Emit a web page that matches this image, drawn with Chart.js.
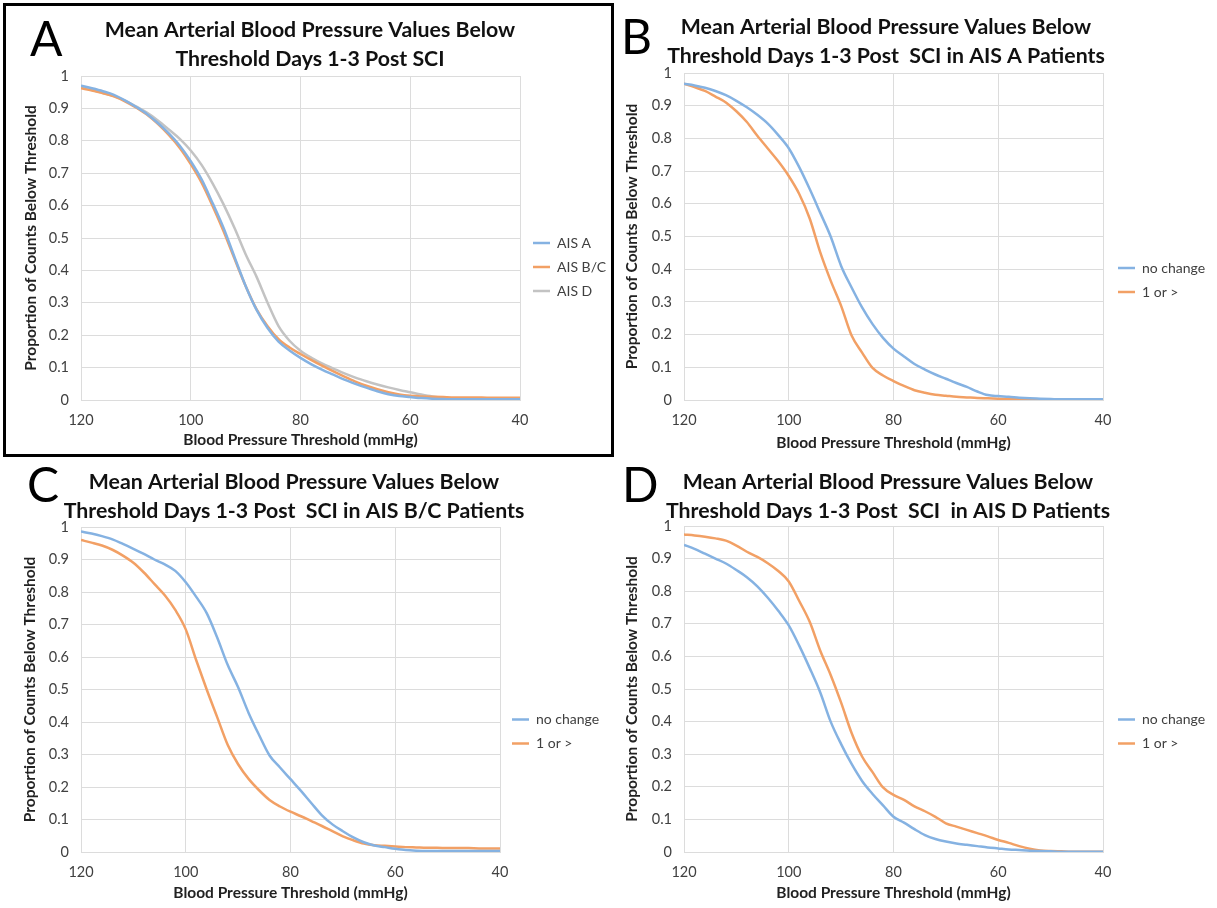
<!DOCTYPE html>
<html>
<head>
<meta charset="utf-8">
<script src="https://cdn.jsdelivr.net/npm/chart.js@4.4.0/dist/chart.umd.min.js"></script>
<style>
  body { margin: 0; background: #fff; width: 1217px; height: 908px; position: relative; overflow: hidden; }
  .panel { position: absolute; }
  .letter { position: absolute; font: 48px Lato, sans-serif; line-height: 48px; color: #000; }
  #boxA { position: absolute; left: 3px; top: 3px; width: 611px; height: 454px; border: 3px solid #000; box-sizing: border-box; }
</style>
</head>
<body>
<div id="boxA"></div>
<div class="panel" style="left:6px;top:6px"><canvas id="chartA" width="604" height="447"></canvas></div>
<div class="panel" style="left:615px;top:6px"><canvas id="chartB" width="600" height="447"></canvas></div>
<div class="panel" style="left:6px;top:460px"><canvas id="chartC" width="604" height="445"></canvas></div>
<div class="panel" style="left:615px;top:460px"><canvas id="chartD" width="600" height="445"></canvas></div>
<div class="letter" style="left:30px;top:14px">A</div>
<div class="letter" style="left:621px;top:12px">B</div>
<div class="letter" style="left:27px;top:460px">C</div>
<div class="letter" style="left:622px;top:460px">D</div>
<script>
// blood pressure thresholds, mmHg
const thresholds = [120, 118, 116, 114, 112, 110, 108, 106, 104, 102, 100, 98, 96, 94, 92, 90, 88, 86, 84, 82,
  80, 78, 76, 74, 72, 70, 68, 66, 64, 62, 60, 58, 56, 54, 52, 50, 48, 46, 44, 42, 40];
const xTicks = [120, 100, 80, 60, 40];

// panel A
const aisA = [0.970, 0.962, 0.953, 0.942, 0.925, 0.905, 0.883, 0.855, 0.823, 0.785, 0.737, 0.680, 0.607, 0.530, 0.440, 0.352, 0.278, 0.222, 0.180, 0.153,
  0.130, 0.110, 0.093, 0.078, 0.063, 0.050, 0.038, 0.027, 0.018, 0.012, 0.009, 0.006, 0.004, 0.003, 0.002, 0.002, 0.002, 0.002, 0.002, 0.002, 0.002];
const aisBC = [0.962, 0.955, 0.947, 0.937, 0.922, 0.903, 0.881, 0.852, 0.818, 0.778, 0.728, 0.670, 0.598, 0.520, 0.435, 0.352, 0.280, 0.228, 0.188, 0.162,
  0.142, 0.123, 0.105, 0.088, 0.072, 0.057, 0.044, 0.033, 0.024, 0.017, 0.013, 0.011, 0.010, 0.009, 0.008, 0.008, 0.008, 0.007, 0.007, 0.007, 0.007];
const aisD = [0.964, 0.957, 0.948, 0.938, 0.924, 0.906, 0.887, 0.863, 0.835, 0.806, 0.770, 0.725, 0.668, 0.603, 0.530, 0.450, 0.380, 0.300, 0.228, 0.183,
  0.152, 0.130, 0.112, 0.097, 0.082, 0.069, 0.058, 0.048, 0.039, 0.031, 0.024, 0.017, 0.011, 0.007, 0.005, 0.004, 0.004, 0.004, 0.004, 0.004, 0.004];

// panel B (AIS A patients)
const noChangeA = [0.967, 0.962, 0.955, 0.945, 0.932, 0.915, 0.895, 0.872, 0.845, 0.810, 0.770, 0.712, 0.645, 0.573, 0.500, 0.410, 0.344, 0.283, 0.232, 0.190,
  0.157, 0.133, 0.110, 0.093, 0.078, 0.065, 0.052, 0.040, 0.026, 0.015, 0.012, 0.010, 0.007, 0.005, 0.004, 0.003, 0.002, 0.002, 0.002, 0.002, 0.002];
const oneOrMoreA = [0.967, 0.957, 0.945, 0.928, 0.910, 0.883, 0.850, 0.808, 0.769, 0.730, 0.685, 0.630, 0.555, 0.452, 0.365, 0.288, 0.197, 0.145, 0.098, 0.075,
  0.058, 0.043, 0.030, 0.022, 0.016, 0.013, 0.010, 0.008, 0.006, 0.005, 0.004, 0.003, 0.002, 0.002, 0.002, 0.002, 0.002, 0.002, 0.002, 0.002, 0.002];

// panel C (AIS B/C patients)
const noChangeBC = [0.986, 0.980, 0.972, 0.962, 0.948, 0.933, 0.917, 0.900, 0.885, 0.865, 0.830, 0.785, 0.735, 0.660, 0.576, 0.507, 0.428, 0.360, 0.297, 0.260,
  0.224, 0.188, 0.150, 0.113, 0.085, 0.064, 0.045, 0.030, 0.020, 0.015, 0.010, 0.006, 0.004, 0.003, 0.003, 0.003, 0.003, 0.003, 0.003, 0.003, 0.003];
const oneOrMoreBC = [0.960, 0.952, 0.943, 0.930, 0.912, 0.890, 0.860, 0.825, 0.790, 0.745, 0.685, 0.590, 0.500, 0.415, 0.330, 0.270, 0.225, 0.190, 0.160, 0.140,
  0.124, 0.110, 0.095, 0.080, 0.064, 0.048, 0.036, 0.026, 0.021, 0.019, 0.017, 0.015, 0.014, 0.013, 0.013, 0.012, 0.012, 0.012, 0.011, 0.011, 0.011];

// panel D (AIS D patients)
const noChangeD = [0.942, 0.930, 0.915, 0.900, 0.885, 0.865, 0.843, 0.815, 0.780, 0.740, 0.695, 0.633, 0.564, 0.490, 0.400, 0.331, 0.270, 0.218, 0.178, 0.143,
  0.108, 0.090, 0.070, 0.052, 0.040, 0.032, 0.026, 0.022, 0.018, 0.014, 0.011, 0.008, 0.006, 0.004, 0.003, 0.002, 0.001, 0.001, 0.001, 0.001, 0.001];
const oneOrMoreD = [0.974, 0.971, 0.967, 0.962, 0.955, 0.940, 0.921, 0.905, 0.886, 0.862, 0.830, 0.770, 0.706, 0.618, 0.543, 0.458, 0.365, 0.293, 0.245, 0.198,
  0.175, 0.160, 0.140, 0.125, 0.108, 0.088, 0.078, 0.068, 0.058, 0.048, 0.037, 0.028, 0.018, 0.010, 0.005, 0.003, 0.002, 0.001, 0.001, 0.001, 0.001];

const blue = "#85b2e2";
const orange = "#f2a065";
const gray = "#c3c3c3";
const gridColor = "#dcdcdc";
const font = "Lato, 'Open Sans', sans-serif";

// moves the title centre and the legend to where they sit in the figure
const placeBoxes = {
  id: "placeBoxes",
  afterLayout(chart, args, opts) {
    const t = chart.titleBlock;
    const half = (t.right - t.left) / 2;
    t.left = opts.titleX - half;
    t.right = opts.titleX + half;
    const lg = chart.legend;
    lg.left = opts.legendX - 10;
    lg.right = lg.left + 200;
    lg.top = opts.legendY - 100;
    lg.bottom = opts.legendY + 100;
    lg.width = 200;
    lg.height = 200;
  },
};

function series(label, values, color) {
  return {
    label: label,
    data: thresholds.map((t, i) => ({ x: t, y: values[i] })),
    borderColor: color,
    backgroundColor: color,
    borderWidth: 2.5,
    pointRadius: 0,
    cubicInterpolationMode: "monotone",
  };
}

function makeChart(id, title, datasets, p) {
  return new Chart(document.getElementById(id).getContext("2d"), {
    type: "line",
    data: { datasets: datasets },
    plugins: [placeBoxes],
    options: {
      responsive: false,
      animation: false,
      layout: { padding: { left: 0, right: p.padRight, top: 0, bottom: 0 } },
      plugins: {
        title: {
          display: true,
          text: title,
          color: "#111",
          font: { family: font, size: 21.3, weight: "bold", lineHeight: 29 / 21.3 },
          padding: { top: p.titleTop, bottom: p.titleBottom },
        },
        legend: {
          position: "chartArea",
          labels: {
            usePointStyle: true,
            pointStyle: "line",
            pointStyleWidth: 17,
            padding: 10,
            color: "#404040",
            font: { family: font, size: 14 },
          },
        },
        tooltip: { enabled: false },
        placeBoxes: { titleX: p.titleX, legendX: p.legendX, legendY: p.legendY },
      },
      scales: {
        x: {
          type: "linear",
          reverse: true,
          min: 40,
          max: 120,
          afterBuildTicks: (scale) => { scale.ticks = xTicks.map((v) => ({ value: v })); },
          afterFit: (scale) => { scale.height = 53; },
          grid: { color: gridColor, drawTicks: false },
          border: { color: gridColor },
          ticks: { padding: 12, color: "#404040", font: { family: font, size: 14.5 } },
          title: {
            display: true,
            text: "Blood Pressure Threshold (mmHg)",
            color: "#222",
            font: { family: font, size: 15.5, weight: "bold" },
            padding: { top: 0, bottom: p.xTitleBottom },
          },
        },
        y: {
          min: 0,
          max: 1,
          afterFit: (scale) => { scale.width = p.yWidth; },
          grid: { color: gridColor, drawTicks: false },
          border: { color: gridColor },
          ticks: {
            stepSize: 0.1,
            padding: 12,
            color: "#404040",
            font: { family: font, size: 14.5 },
            callback: (v) => String(Number(v.toFixed(1))),
          },
          title: {
            display: true,
            text: "Proportion of Counts Below Threshold",
            color: "#222",
            font: { family: font, size: 15.5, weight: "bold" },
            padding: { top: p.yTitleTop, bottom: 0 },
          },
        },
      },
    },
  });
}

makeChart("chartA",
  ["Mean Arterial Blood Pressure Values Below", "Threshold Days 1-3 Post SCI"],
  [series("AIS A", aisA, blue), series("AIS B/C", aisBC, orange), series("AIS D", aisD, gray)],
  { padRight: 90, yWidth: 75, titleTop: 9.5, titleBottom: 2.5, titleX: 304, legendX: 527, legendY: 261, yTitleTop: 16, xTitleBottom: 4 });

makeChart("chartB",
  ["Mean Arterial Blood Pressure Values Below", "Threshold Days 1-3 Post  SCI in AIS A Patients"],
  [series("no change", noChangeA, blue), series("1 or >", oneOrMoreA, orange)],
  { padRight: 112, yWidth: 69, titleTop: 6.5, titleBottom: 2.5, titleX: 271, legendX: 503, legendY: 274, yTitleTop: 8, xTitleBottom: 1 });

makeChart("chartC",
  ["Mean Arterial Blood Pressure Values Below", "Threshold Days 1-3 Post  SCI in AIS B/C Patients"],
  [series("no change", noChangeBC, blue), series("1 or >", oneOrMoreBC, orange)],
  { padRight: 110, yWidth: 75, titleTop: 7.5, titleBottom: 1.5, titleX: 288, legendX: 506, legendY: 271.5, yTitleTop: 15, xTitleBottom: 3 });

makeChart("chartD",
  ["Mean Arterial Blood Pressure Values Below", "Threshold Days 1-3 Post  SCI  in AIS D Patients"],
  [series("no change", noChangeD, blue), series("1 or >", oneOrMoreD, orange)],
  { padRight: 112, yWidth: 69, titleTop: 7.5, titleBottom: 0.5, titleX: 273, legendX: 503, legendY: 271.5, yTitleTop: 8, xTitleBottom: 3 });
</script>
</body>
</html>
